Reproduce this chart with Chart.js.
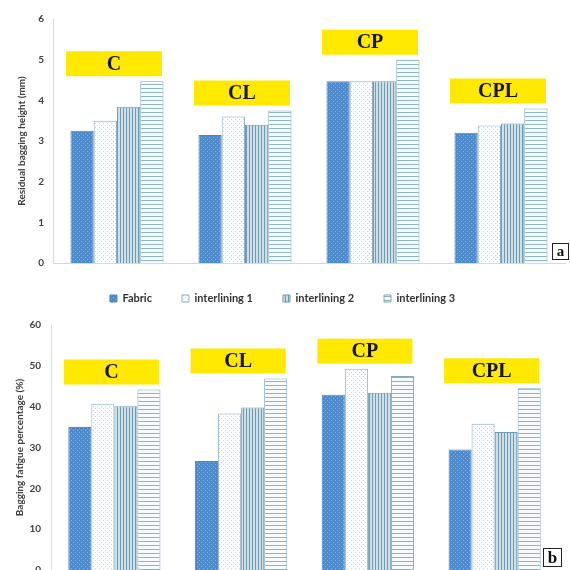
<!DOCTYPE html>
<html>
<head>
<meta charset="utf-8">
<script src="https://cdn.jsdelivr.net/npm/chart.js@4/dist/chart.umd.min.js"></script>
<style>
  html, body { margin: 0; padding: 0; background: #ffffff; width: 570px; height: 570px; overflow: hidden; }
  #wrap { position: relative; width: 570px; height: 570px; }
  #topCanvas { position: absolute; left: 0; top: 0; }
  #bottomCanvas { position: absolute; left: 0; top: 313px; }
</style>
</head>
<body>
<div id="wrap">
  <canvas id="topCanvas" width="570" height="314"></canvas>
  <canvas id="bottomCanvas" width="570" height="257"></canvas>
</div>
<script>
// Sample groups and the four layers tested in each
const categories = ['C', 'CL', 'CP', 'CPL'];
const seriesNames = ['Fabric', 'interlining 1', 'interlining 2', 'interlining 3'];

// Panel a: residual bagging height (mm)
const heightFabric = [3.25, 3.15, 4.47, 3.20];
const heightInt1   = [3.50, 3.60, 4.47, 3.38];
const heightInt2   = [3.84, 3.40, 4.47, 3.43];
const heightInt3   = [4.47, 3.75, 5.00, 3.80];
const heightTicks  = [0, 1, 2, 3, 4, 5, 6];

// Panel b: bagging fatigue percentage (%)
const fatigueFabric = [35.0, 26.7, 42.9, 29.5];
const fatigueInt1   = [40.7, 38.3, 49.3, 35.8];
const fatigueInt2   = [40.1, 39.8, 43.4, 33.8];
const fatigueInt3   = [44.2, 46.9, 47.5, 44.5];
const fatigueTicks  = [0, 10, 20, 30, 40, 50, 60];

// ---- fill patterns ----
function makePattern(w, h, paint) {
  const c = document.createElement('canvas');
  c.width = w; c.height = h;
  const g = c.getContext('2d');
  paint(g, w, h);
  return g.createPattern(c, 'repeat');
}

const fabricFill = makePattern(4, 4, (g) => {
  g.fillStyle = '#4f8bcb'; g.fillRect(0, 0, 4, 4);
  g.fillStyle = '#86afdc'; g.fillRect(1, 1, 1, 1); g.fillRect(3, 3, 1, 1);
});
const int1Fill = makePattern(4, 4, (g) => {
  g.fillStyle = '#fcfdfe'; g.fillRect(0, 0, 4, 4);
  g.fillStyle = '#c6d4df'; g.fillRect(1, 1, 1, 1); g.fillRect(3, 3, 1, 1);
});
const int2Fill = makePattern(3, 3, (g) => {
  g.fillStyle = '#cde0e8'; g.fillRect(0, 0, 3, 3);
  g.fillStyle = '#6f9cb3'; g.fillRect(0, 0, 1, 3);
});
const int3Fill = makePattern(4, 4, (g) => {
  g.fillStyle = '#f8fbfd'; g.fillRect(0, 0, 4, 4);
  g.fillStyle = '#8cb2c6'; g.fillRect(0, 0, 4, 1);
});

const fills   = [fabricFill, int1Fill, int2Fill, int3Fill];
const borders = ['#4a84c2', '#8fb0c6', '#6f9cb3', '#80a9bf'];

function buildDatasets(seriesValues) {
  return seriesValues.map((vals, i) => ({
    label: seriesNames[i],
    data: vals,
    backgroundColor: fills[i],
    borderColor: borders[i],
    borderWidth: 1,
    categoryPercentage: 0.727,
    barPercentage: 1.0
  }));
}

// Yellow group labels above each cluster, plus the boxed panel letter
function groupLabelPlugin(panelLetter, letterBox) {
  return {
    id: 'groupLabels',
    afterDatasetsDraw(chart) {
      const ctx = chart.ctx;
      const xs = chart.scales.x, ys = chart.scales.y;
      const catW = (xs.right - xs.left) / categories.length;
      categories.forEach((cat, i) => {
        let maxVal = -Infinity;
        chart.data.datasets.forEach(ds => { maxVal = Math.max(maxVal, ds.data[i]); });
        const barTop = ys.getPixelForValue(maxVal);
        const bw = catW * 0.75, bh = 25;
        const cx = xs.getPixelForValue(i) - 3;
        const bottom = barTop - 5;
        ctx.save();
        ctx.fillStyle = '#ffe900';
        ctx.fillRect(cx - bw / 2, bottom - bh, bw, bh);
        ctx.fillStyle = '#141414';
        ctx.font = 'bold 20px "Liberation Serif", "DejaVu Serif", serif';
        ctx.textAlign = 'center';
        ctx.textBaseline = 'middle';
        ctx.fillText(cat, cx, bottom - bh / 2 + 1);
        ctx.restore();
      });
      // panel letter
      const ca = chart.chartArea;
      const bx = ca.right + letterBox.dx, by = ca.bottom + letterBox.dy, s = letterBox.size;
      ctx.save();
      ctx.fillStyle = '#ffffff';
      ctx.fillRect(bx, by, s, s);
      ctx.strokeStyle = '#222222';
      ctx.lineWidth = 1;
      ctx.strokeRect(bx + 0.5, by + 0.5, s - 1, s - 1);
      ctx.fillStyle = '#111111';
      ctx.font = 'bold ' + (s - 2) + 'px "Liberation Serif", "DejaVu Serif", serif';
      ctx.textAlign = 'center';
      ctx.textBaseline = 'middle';
      ctx.fillText(panelLetter, bx + s / 2, by + s / 2 + 1);
      ctx.restore();
    }
  };
}

const tickFont = { family: 'Lato, "Open Sans", sans-serif', size: 10, weight: 'bold' };
const titleFont = { family: 'Lato, "Open Sans", sans-serif', size: 10, weight: 'bold' };

function yScale(tickList, title, axisWidth, titlePad, tickPad) {
  return {
    min: tickList[0],
    max: tickList[tickList.length - 1],
    afterBuildTicks(scale) { scale.ticks = tickList.map(v => ({ value: v })); },
    afterFit(scale) {
      scale.width = axisWidth;
      // keep the plot area flush with the layout padding
      scale.paddingTop = 0;
      scale.paddingBottom = 0;
    },
    grid: { display: false, drawTicks: false },
    border: { display: true, color: '#d9d9d9', width: 1 },
    ticks: { font: tickFont, color: '#404040', padding: tickPad },
    title: { display: true, text: title, font: titleFont, color: '#404040', padding: { top: titlePad, bottom: 0 } }
  };
}

function xScale(height) {
  return {
    afterFit(scale) { scale.height = height; },
    grid: { display: false, drawTicks: false },
    border: { display: true, color: '#d9d9d9', width: 1 },
    ticks: { display: false }
  };
}

// Panel a
new Chart(document.getElementById('topCanvas'), {
  type: 'bar',
  data: {
    labels: categories,
    datasets: buildDatasets([heightFabric, heightInt1, heightInt2, heightInt3])
  },
  options: {
    responsive: false,
    animation: false,
    layout: { autoPadding: false, padding: { top: 19, right: 5, bottom: 0, left: 0 } },
    scales: {
      x: xScale(0),
      y: yScale(heightTicks, 'Residual bagging height (mm)', 53, 16, 9)
    },
    plugins: {
      tooltip: { enabled: false },
      legend: {
        display: true,
        position: 'bottom',
        labels: {
          boxWidth: 7,
          boxHeight: 7,
          padding: 30,
          color: '#333333',
          font: { family: 'Lato, "Open Sans", sans-serif', size: 11, weight: 'bold' }
        }
      }
    }
  },
  plugins: [groupLabelPlugin('a', { dx: -13, dy: -20, size: 17 })]
});

// Panel b
new Chart(document.getElementById('bottomCanvas'), {
  type: 'bar',
  data: {
    labels: categories,
    datasets: buildDatasets([fatigueFabric, fatigueInt1, fatigueInt2, fatigueInt3])
  },
  options: {
    responsive: false,
    animation: false,
    layout: { autoPadding: false, padding: { top: 12, right: 12, bottom: 0, left: 0 } },
    scales: {
      x: xScale(0),
      y: yScale(fatigueTicks, 'Bagging fatigue percentage (%)', 51, 14, 10)
    },
    plugins: {
      tooltip: { enabled: false },
      legend: { display: false }
    }
  },
  plugins: [groupLabelPlugin('b', { dx: -15, dy: -22, size: 19 })]
});
</script>
</body>
</html>
